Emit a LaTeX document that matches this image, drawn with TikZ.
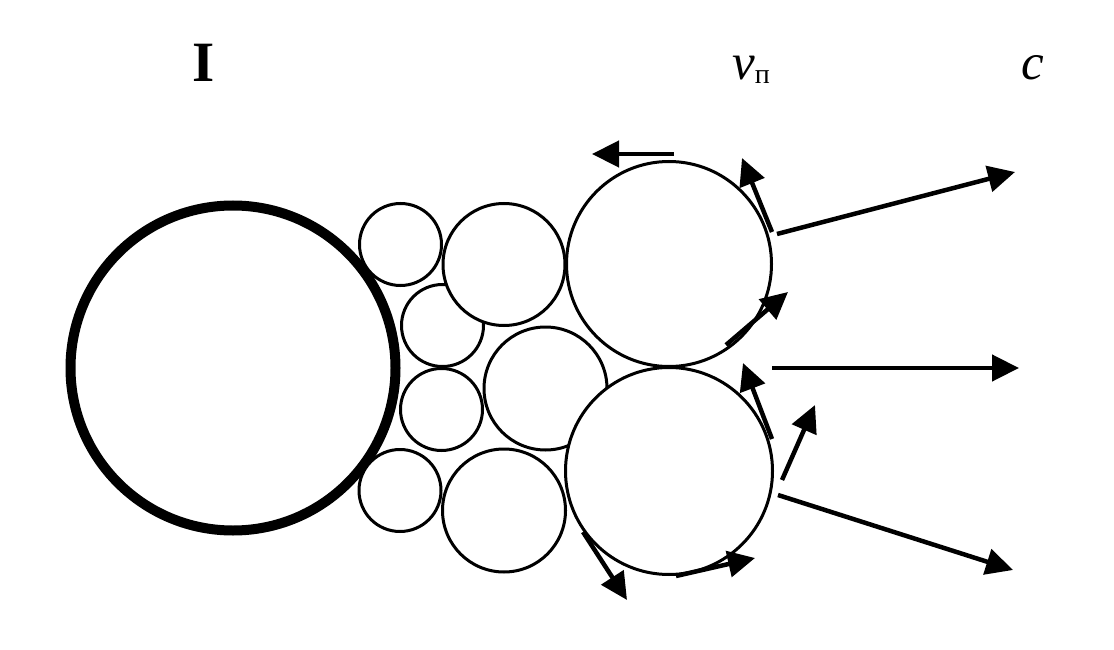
\documentclass[tikz,border=0pt]{standalone}
\usepackage{fontspec}
\setmainfont{Liberation Serif}
\usetikzlibrary{arrows.meta}
\begin{document}
\begin{tikzpicture}[x=1pt,y=-1pt,
  grain/.style={circle,draw,fill=white,line width=3pt,inner sep=0pt,minimum size=#1},
  vel/.style={line width=4.5pt,-{Triangle[length=27pt,width=26pt]}},
  lbl/.style={inner sep=0pt,anchor=base}]
\useasboundingbox (0,0) rectangle (1114,650);
% big bold circle
\node[circle,draw,fill=white,line width=10pt,inner sep=0pt,minimum size=325pt] (big) at (233,368) {};
% small grains
\node[grain=82pt] (s1) at (400.5,244.5) {};
\node[grain=82pt] (s2) at (442.5,325.5) {};
\node[grain=82pt] (s3) at (441.5,409.5) {};
\node[grain=82pt] (s4) at (400,490.5) {};
% medium grains
\node[grain=122pt] (m1) at (504,264.5) {};
\node[grain=123pt] (m2) at (545.5,388.5) {};
\node[grain=123pt] (m3) at (504,510.5) {};
% large grains
\node[grain=205pt] (L1) at (669,264) {};
\node[grain=207pt] (L2) at (669,471) {};
% labels
\node[lbl] (tI) at (204,82) {\fontsize{57}{60}\selectfont\bfseries I};
\node[lbl,anchor=base west] (tv) at (732,80) {\fontsize{51}{55}\selectfont\itshape v\/\upshape\fontsize{28}{30}\selectfont\raisebox{-4pt}{п}};
\node[lbl,anchor=base west] (tc) at (1021,80) {\fontsize{51}{55}\selectfont\itshape c};
% arrow end points
\coordinate (a1s) at (674,154); \coordinate (a1e) at (592,154);
\coordinate (a2s) at (772,232); \coordinate (a2e) at (742,158);
\coordinate (a3s) at (777,234); \coordinate (a3e) at (1015,172);
\coordinate (a4s) at (726,345); \coordinate (a4e) at (788,292);
\coordinate (a5s) at (772,368); \coordinate (a5e) at (1019,368);
\coordinate (a6s) at (772,439); \coordinate (a6e) at (743,363);
\coordinate (a7s) at (782,480); \coordinate (a7e) at (815,405);
\coordinate (a8s) at (778,495); \coordinate (a8e) at (1013,570);
\coordinate (a9s) at (583,532); \coordinate (a9e) at (627,600);
\coordinate (a10s) at (676,576); \coordinate (a10e) at (755,558);
\draw[vel] (a1s) -- (a1e);
\draw[vel] (a2s) -- (a2e);
\draw[vel] (a3s) -- (a3e);
\draw[vel] (a4s) -- (a4e);
\draw[vel] (a5s) -- (a5e);
\draw[vel] (a6s) -- (a6e);
\draw[vel] (a7s) -- (a7e);
\draw[vel] (a8s) -- (a8e);
\draw[vel] (a9s) -- (a9e);
\draw[vel] (a10s) -- (a10e);
\end{tikzpicture}
\end{document}
